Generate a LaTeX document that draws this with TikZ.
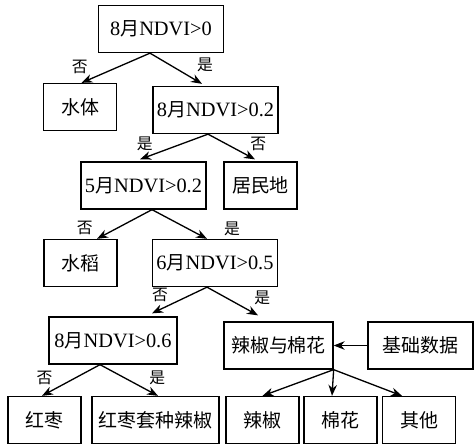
\documentclass[tikz,border=0pt]{standalone}
\usepackage{fontspec}
\setmainfont{Liberation Serif}
\newfontfamily\cjk{Noto Sans CJK SC}
\usetikzlibrary{arrows.meta}
\newcommand{\yue}{{\cjk\fontsize{10.8}{13}\selectfont 月}}

\begin{document}
\begin{tikzpicture}[x=0.02cm, y=-0.02cm, line width=0.75pt, >={Stealth[length=2.2mm, width=1.7mm, inset=0.7mm]},
	box/.style={draw, minimum height=0.94cm, minimum width=1.46cm, inner sep=2pt, font=\fontsize{11.6}{13.6}\selectfont},
	wide/.style={box, minimum width=2.5cm},
	zh/.style={font=\cjk\fontsize{10.8}{13}\selectfont},
	lbl/.style={inner sep=0pt, font=\cjk\fontsize{9}{11}\selectfont}]
	\useasboundingbox (0,0) rectangle (475,445);
	\node[wide] (A) at (161,29) {8\yue NDVI>0};
	\node[box, zh] (W) at (80,107) {水体};
	\node[wide] (B) at (215.5,110) {8\yue NDVI>0.2};
	\node[wide] (C) at (143.5,185.5) {5\yue NDVI>0.2};
	\node[box, zh] (J) at (260.5,185.5) {居民地};
	\node[box, zh] (R) at (80.5,263) {水稻};
	\node[wide] (D) at (215,263) {6\yue NDVI>0.5};
	\node[wide, minimum width=2.56cm] (E) at (113,340.5) {8\yue NDVI>0.6};
	\node[box, zh, minimum width=2.18cm] (L) at (278.5,345.5) {辣椒与棉花};
	\node[box, zh, minimum width=2.1cm] (G) at (420.5,345.5) {基础数据};
	\node[box, zh] (H1) at (44.5,420) {红枣};
	\node[box, zh, minimum width=2.54cm] (H2) at (155.5,420) {红枣套种辣椒};
	\node[box, zh] (K1) at (262.5,420) {辣椒};
	\node[box, zh] (K2) at (340.5,420) {棉花};
	\node[box, zh] (K3) at (419,420) {其他};
	% decision arrows
	\draw[->] ([xshift=-0.22cm]A.south) -- node[lbl, pos=0.47, xshift=-0.76cm] {否} ([xshift=0.03cm]W.north);
	\draw[->] ([xshift=-0.22cm]A.south) -- node[lbl, pos=0.375, xshift=0.71cm] {是} ([xshift=-0.27cm, yshift=0.04cm]B.north);
	\draw[->] ([xshift=-0.15cm]B.south) -- node[lbl, pos=0.37, xshift=-0.76cm] {是} ([xshift=-0.07cm, yshift=0.04cm]C.north);
	\draw[->] ([xshift=-0.15cm]B.south) -- node[lbl, pos=0.37, xshift=0.66cm] {否} ([xshift=-0.11cm, yshift=0.04cm]J.north);
	\draw[->] ([xshift=0.17cm]C.south) -- node[lbl, pos=0.62, xshift=-0.66cm] {否} ([xshift=0.33cm]R.north);
	\draw[->] ([xshift=0.17cm]C.south) -- node[lbl, pos=0.655, xshift=0.88cm] {是} ([xshift=-0.16cm]D.north);
	\draw[->] ([xshift=-0.16cm]D.south) -- node[lbl, pos=0.3, xshift=-0.61cm] {否} ([xshift=0.78cm, yshift=0.06cm]E.north);
	\draw[->] ([xshift=-0.16cm]D.south) -- node[lbl, pos=0.38, xshift=0.72cm] {是} ([xshift=-0.41cm, yshift=0.12cm]L.north);
	\draw[->] ([xshift=-0.26cm]E.south) -- node[lbl, pos=0.42, xshift=-0.62cm] {否} ([xshift=-0.05cm]H1.north);
	\draw[->] ([xshift=-0.26cm]E.south) -- node[lbl, pos=0.42, xshift=0.66cm] {是} ([xshift=0.05cm]H2.north);
	% classes
	\draw[->] (G) -- (L);
	\draw[->] (L.south east) -- (K1.north);
	\draw[->] (L.south east) -- ([xshift=-0.17cm]K2.north);
	\draw[->] (L.south east) -- ([xshift=-0.34cm]K3.north);
\end{tikzpicture}
\end{document}
